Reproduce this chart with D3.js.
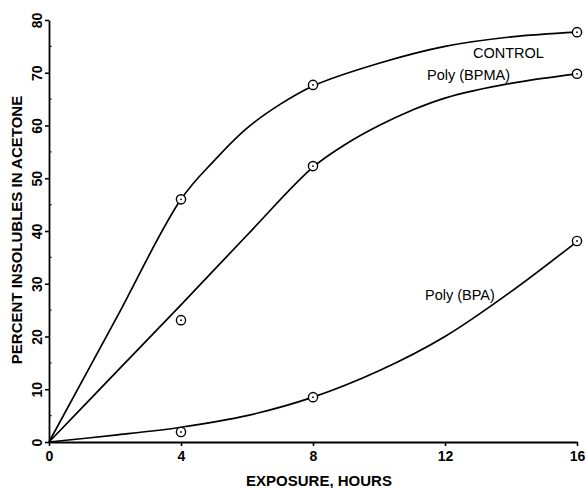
<!DOCTYPE html>
<html>
<head>
<meta charset="utf-8">
<script src="https://cdn.jsdelivr.net/npm/d3@7"></script>
<style>
  body { margin: 0; background: #fff; }
  text { font-family: "Liberation Sans", Arial, sans-serif; fill: #000; }
</style>
</head>
<body>
<svg id="chart" width="588" height="488"></svg>
<script>
// measured points (hours, percent)
var hours = [4, 8, 16];
var controlPts = [46, 67.7, 77.7];
var bpmaPts = [23.1, 52.3, 69.8];
var bpaPts = [1.9, 8.5, 38.1];

// hand drawn curves
var controlCurveX = [0, 2, 4, 5, 6, 7, 8, 10, 12, 14, 16];
var controlCurveY = [0, 23, 46, 53.3, 59.5, 64, 67.5, 71.8, 75, 76.8, 77.7];
var bpmaCurveX = [0, 2, 4, 6, 8, 9, 10, 11, 12, 14, 16];
var bpmaCurveY = [0, 13, 26, 39.2, 52.1, 56.5, 60, 62.9, 65.2, 68, 69.8];
var bpaCurveX = [0, 2, 4, 6, 8, 10, 12, 14, 16];
var bpaCurveY = [0, 1.3, 2.8, 5, 8.5, 13.5, 20, 28.5, 38];

var xTicks = [0, 4, 8, 12, 16];
var yTicks = [0, 10, 20, 30, 40, 50, 60, 70, 80];

var svg = d3.select("#chart");
var margin = {top: 20, right: 11, bottom: 46, left: 49};
var width = 588 - margin.left - margin.right,
    height = 488 - margin.top - margin.bottom;

var g = svg.append("g").attr("transform", "translate(" + margin.left + "," + margin.top + ")");

var x = d3.scaleLinear().domain([0, 16]).range([0, width]);
var y = d3.scaleLinear().domain([0, 80]).range([height, 0]);

// x axis
var xAxis = g.append("g")
    .attr("transform", "translate(0," + height + ")")
    .call(d3.axisBottom(x).tickValues(xTicks).tickSize(4).tickPadding(5).tickSizeOuter(0));
xAxis.select(".domain").attr("stroke-width", 1.8);
xAxis.selectAll(".tick line").attr("stroke-width", 1.6);
xAxis.selectAll(".tick text")
    .attr("font-size", 14).attr("font-weight", "bold")
    .attr("font-family", "Liberation Sans, Arial, sans-serif");

// y axis
var yAxis = g.append("g")
    .call(d3.axisLeft(y).tickValues(yTicks).tickSize(4).tickFormat(d3.format("d")).tickSizeOuter(0));
yAxis.select(".domain").attr("stroke-width", 1.8);
yAxis.selectAll(".tick line").attr("stroke-width", 1.6);
yAxis.selectAll(".tick text")
    .attr("font-size", 14).attr("font-weight", "bold")
    .attr("font-family", "Liberation Sans, Arial, sans-serif")
    .attr("text-anchor", "middle")
    .attr("x", 0).attr("dy", 0)
    .attr("transform", "translate(-12,0) rotate(-90)")
    .attr("dominant-baseline", "central");

// minor ticks on y
g.append("g").selectAll("line")
    .data(yTicks.slice(0, -1))
    .enter().append("line")
      .attr("x1", 0).attr("x2", 2.5)
      .attr("y1", function(d) { return y(d + 5); })
      .attr("y2", function(d) { return y(d + 5); })
      .attr("stroke", "#000").attr("stroke-width", 1.2);

// axis titles
svg.append("text")
    .attr("transform", "translate(22,230) rotate(-90)")
    .attr("text-anchor", "middle")
    .attr("font-size", 15).attr("font-weight", "bold")
    .text("PERCENT INSOLUBLES IN ACETONE");

svg.append("text")
    .attr("x", 319).attr("y", 486)
    .attr("text-anchor", "middle")
    .attr("font-size", 15).attr("font-weight", "bold")
    .text("EXPOSURE, HOURS");

// curves
var line = d3.line()
    .x(function(d) { return x(d[0]); })
    .y(function(d) { return y(d[1]); })
    .curve(d3.curveCatmullRom.alpha(0.5));

var curves = [
  d3.zip(controlCurveX, controlCurveY),
  d3.zip(bpmaCurveX, bpmaCurveY),
  d3.zip(bpaCurveX, bpaCurveY)
];

g.selectAll(".curve")
    .data(curves)
    .enter().append("path")
      .attr("class", "curve")
      .attr("d", line)
      .attr("fill", "none")
      .attr("stroke", "#000")
      .attr("stroke-width", 1.7);

// markers
var series = [controlPts, bpmaPts, bpaPts];
series.forEach(function(vals) {
  var pts = g.append("g").selectAll("g")
      .data(d3.zip(hours, vals))
      .enter().append("g")
        .attr("transform", function(d) { return "translate(" + x(d[0]) + "," + y(d[1]) + ")"; });
  pts.append("circle")
      .attr("r", 4.6)
      .attr("fill", "#fff")
      .attr("stroke", "#000")
      .attr("stroke-width", 1.4);
  pts.append("circle")
      .attr("r", 0.9)
      .attr("fill", "#000");
});

// series labels
svg.append("text").attr("x", 473).attr("y", 58).attr("font-size", 14.5).text("CONTROL");
svg.append("text").attr("x", 427).attr("y", 80).attr("font-size", 14.5).text("Poly (BPMA)");
svg.append("text").attr("x", 425).attr("y", 300).attr("font-size", 14.5).text("Poly (BPA)");
</script>
</body>
</html>
